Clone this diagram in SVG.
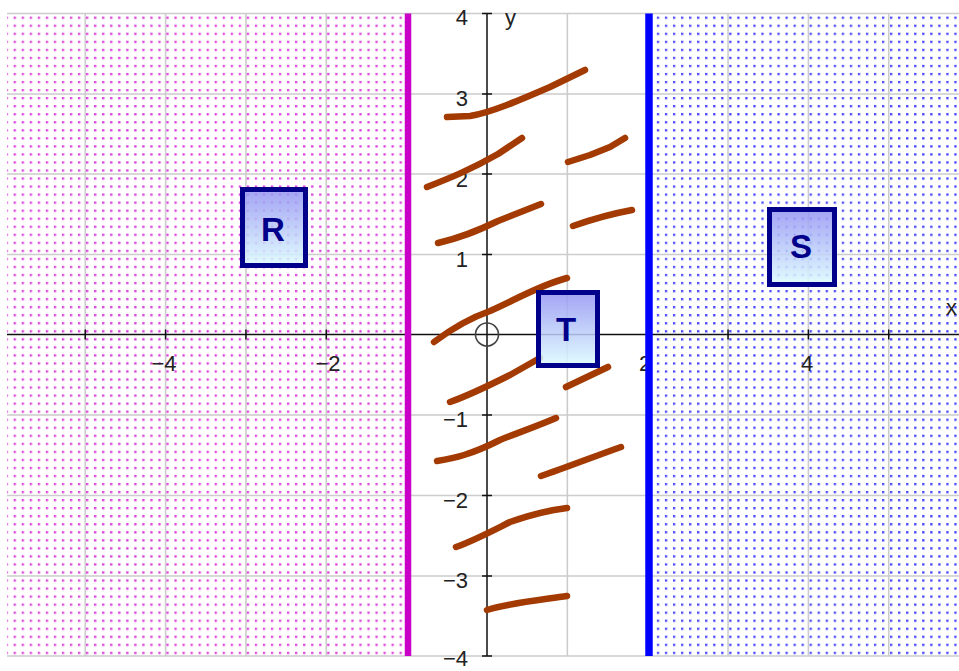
<svg xmlns="http://www.w3.org/2000/svg" width="959" height="671" viewBox="0 0 959 671">
<defs>
<pattern id="pinkDots" patternUnits="userSpaceOnUse" x="86" y="97" width="8.04" height="8.04">
<rect x="0" y="0" width="2.3" height="2.3" fill="#dd44dd"/>
</pattern>
<pattern id="blueDots" patternUnits="userSpaceOnUse" x="86" y="97" width="8.04" height="8.04">
<rect x="0" y="0" width="2.3" height="2.3" fill="#4848ff"/>
</pattern>
<linearGradient id="boxFill" x1="0" y1="0" x2="0" y2="1">
<stop offset="0" stop-color="#9494f2"/>
<stop offset="1" stop-color="#dcfcff"/>
</linearGradient>
<style>
.grid{stroke:#cccccc;stroke-width:1.6;fill:none}
.axis{stroke:#111;stroke-width:1.5;fill:none}
.tick{stroke:#111;stroke-width:1.5}
.lbl{font-family:"Liberation Sans",Arial,sans-serif;font-size:22px;fill:#222}
.ylbl{text-anchor:end}
.xlbl{text-anchor:middle}
.stroke{fill:none;stroke:#a33a02;stroke-width:6.5;stroke-linecap:round;stroke-linejoin:round}
.box{fill:url(#boxFill);fill-opacity:0.85;stroke:#00008a;stroke-width:5}
.boxtxt{font-family:"Liberation Sans",Arial,sans-serif;font-size:33px;font-weight:bold;fill:#00008a;text-anchor:middle}
</style>
</defs>
<rect width="959" height="671" fill="#ffffff"/>
<g id="grid">
<path class="grid" d="M85.25,13.5V656 M165.6,13.5V656 M245.95,13.5V656 M326.3,13.5V656 M406.65,13.5V656 M567.35,13.5V656 M647.7,13.5V656 M728.05,13.5V656 M808.4,13.5V656 M888.75,13.5V656"/>
<path class="grid" d="M7,13.5H959 M7,94H959 M7,174H959 M7,254.5H959 M7,415H959 M7,495.5H959 M7,576H959 M7,656H959"/>
</g>
<g id="axes">
<path class="axis" d="M7,334.5H959 M487,13.5V656"/>
<path class="tick" d="M482,13.5H492 M482,94H492 M482,174H492 M482,254.5H492 M482,415H492 M482,495.5H492 M482,576H492 M482,656H492"/>
<path class="tick" d="M85.25,329.5v10 M165.6,329.5v10 M245.95,329.5v10 M326.3,329.5v10 M406.65,329.5v10 M567.35,329.5v10 M647.7,329.5v10 M728.05,329.5v10 M808.4,329.5v10 M888.75,329.5v10"/>
</g>
<g id="region-dots">
<rect x="7" y="13.5" width="397" height="642.5" fill="url(#pinkDots)"/>
<rect x="651" y="13.5" width="308" height="642.5" fill="url(#blueDots)"/>
</g>
<g id="labels">
<text class="lbl ylbl" x="468" y="25">4</text>
<text class="lbl ylbl" x="468" y="106">3</text>
<text class="lbl ylbl" x="468" y="187">2</text>
<text class="lbl ylbl" x="468" y="267">1</text>
<text class="lbl ylbl" x="468" y="427">−1</text>
<text class="lbl ylbl" x="468" y="508">−2</text>
<text class="lbl ylbl" x="468" y="588">−3</text>
<text class="lbl ylbl" x="468" y="666">−4</text>
<text class="lbl xlbl" x="164" y="371">−4</text>
<text class="lbl xlbl" x="328" y="371">−2</text>
<text class="lbl xlbl" x="645" y="371">2</text>
<text class="lbl xlbl" x="807" y="371">4</text>
<text class="lbl" x="505" y="25">y</text>
<text class="lbl" x="946" y="315">x</text>
</g>
<g id="boundaries">
<line x1="408" y1="13.5" x2="408" y2="656" stroke="#c800c8" stroke-width="6.5"/>
<line x1="649" y1="13.5" x2="649" y2="656" stroke="#0000ff" stroke-width="7.5"/>
</g>
<circle id="origin" cx="487" cy="334.5" r="11.5" fill="none" stroke="#444" stroke-width="1.6"/>
<g id="connectors">
<path class="stroke" d="M447,117 L470,116 C490,113 520,100 550,87 L585,70"/>
<path class="stroke" d="M427,187 C450,178 470,170 498,154 L522,138"/>
<path class="stroke" d="M568,162 L590,155 L610,147 L625,138"/>
<path class="stroke" d="M438,243 C460,238 475,232 498,221 L541,204"/>
<path class="stroke" d="M573,226 C590,220 605,215 632,210"/>
<path class="stroke" d="M434,342 C450,330 470,318 490,311 C515,300 540,285 567,278"/>
<path class="stroke" d="M450,402 C470,395 490,385 510,375 L540,358"/>
<path class="stroke" d="M566,387 L608,367"/>
<path class="stroke" d="M437,461 C455,458 470,455 500,440 C520,432 540,425 556,418"/>
<path class="stroke" d="M541,476 C565,468 590,458 621,447"/>
<path class="stroke" d="M456,547 C475,540 490,532 510,522 C530,515 550,510 567,508"/>
<path class="stroke" d="M487,610 C510,603 540,600 567,596"/>
</g>
<g id="node-R">
<rect class="box" x="242.5" y="189.5" width="63" height="76"/>
<text class="boxtxt" x="273" y="241">R</text>
</g>
<g id="node-S">
<rect class="box" x="769.5" y="209.5" width="65" height="75"/>
<text class="boxtxt" x="801" y="258">S</text>
</g>
<g id="node-T">
<rect class="box" x="538.5" y="292.5" width="59" height="73"/>
<text class="boxtxt" x="566" y="341">T</text>
</g>
</svg>
